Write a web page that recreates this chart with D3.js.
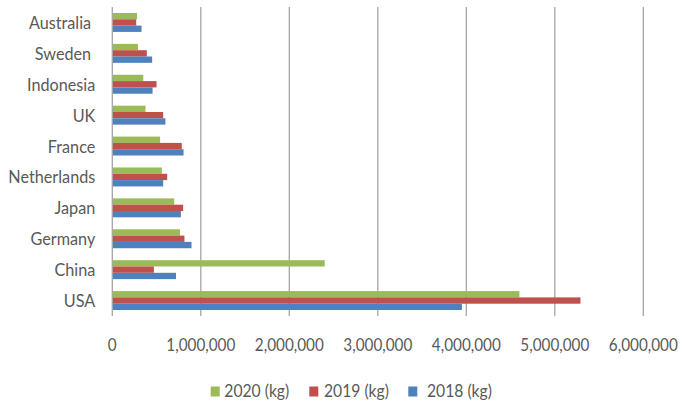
<!DOCTYPE html>
<html><head><meta charset="utf-8">
<script src="https://cdn.jsdelivr.net/npm/d3@7"></script>
<style>
body{margin:0;background:#fff;}
svg{display:block;font-family:Lato,"Liberation Sans",Arial,sans-serif;}
text{white-space:pre;}
</style></head>
<body><svg id="chart" width="682" height="405"></svg>
<script>
const categories = ["Australia ","Sweden ","Indonesia","UK","France","Netherlands","Japan","Germany","China","USA"];
const seriesNames = ["2020 (kg)","2019 (kg)","2018 (kg)"];
const values2020 = [280000,290000,350000,375000,540000,560000,700000,765000,2400000,4600000];
const values2019 = [270000,390000,500000,575000,785000,620000,800000,815000,470000,5290000];
const values2018 = [330000,450000,455000,600000,805000,575000,775000,895000,720000,3950000];
const xTicks = [0,1000000,2000000,3000000,4000000,5000000,6000000];
const colors = ["#9BBB59","#C0504D","#4F81BD"];

const svg = d3.select("#chart");
const W = 682, H = 405;
const m = {left:112.3, right:38.7, top:7, bottom:89};
const x = d3.scaleLinear().domain([0,6000000]).range([m.left, W-m.right]);
const y = d3.scaleBand().domain(categories).range([m.top, H-m.bottom]).paddingInner(0.387).paddingOuter(0.1935);
const ys = d3.scaleBand().domain(seriesNames).range([0, y.bandwidth()]);
const seriesVals = [values2020, values2019, values2018];
const FS = 18;

// measure horizontal scale so text widths match the reference's narrow font
function measure(str){
  const t = svg.append("text").attr("font-size",FS).text(str);
  const w = t.node().getComputedTextLength(); t.remove(); return w;
}
const sCat = 87 / measure("Netherlands");
const sTick = 69 / measure("1,000,000");
const sLeg = 65 / measure("2020 (kg)");

// gridlines
svg.append("g").selectAll("line").data(xTicks.slice(1)).join("line")
  .attr("x1", d=>x(d)).attr("x2", d=>x(d))
  .attr("y1", m.top).attr("y2", H-m.bottom)
  .attr("stroke","#A6A6A6").attr("stroke-width",1.3);

// bars
seriesNames.forEach((s,i)=>{
  svg.append("g").selectAll("rect").data(categories).join("rect")
    .attr("x", x(0))
    .attr("y", c=>y(c)+ys(s))
    .attr("width", (c,j)=>x(seriesVals[i][j])-x(0))
    .attr("height", ys.bandwidth())
    .attr("fill", colors[i]);
});

// left axis line
svg.append("line").attr("x1",x(0)).attr("x2",x(0)).attr("y1",m.top).attr("y2",H-m.bottom)
  .attr("stroke","#A6A6A6").attr("stroke-width",1.3);

// category labels
svg.append("g").selectAll("text").data(categories).join("text")
  .attr("transform", c=>`translate(${x(0)-17},${y(c)+y.bandwidth()/2+6.5}) scale(${sCat},1)`)
  .attr("text-anchor","end")
  .attr("font-size",FS).attr("fill","#595959")
  .text(c=>c);

// x tick labels
const fmt = d3.format(",");
svg.append("g").selectAll("text").data(xTicks).join("text")
  .attr("transform", d=>`translate(${x(d)},350.5) scale(${sTick},1)`)
  .attr("text-anchor","middle")
  .attr("font-size",FS).attr("fill","#595959")
  .text(d=>fmt(d));

// legend
const legX = [210.7, 309.3, 408.3];
const legTX = [224.3, 324, 427];
const leg = svg.append("g");
seriesNames.forEach((s,i)=>{
  leg.append("rect").attr("x",legX[i]).attr("y",386.5).attr("width",9).attr("height",10).attr("fill",colors[i]);
  leg.append("text").attr("transform",`translate(${legTX[i]},397.3) scale(${sLeg},1)`)
    .attr("font-size",FS).attr("fill","#595959").text(s);
});
</script></body></html>
